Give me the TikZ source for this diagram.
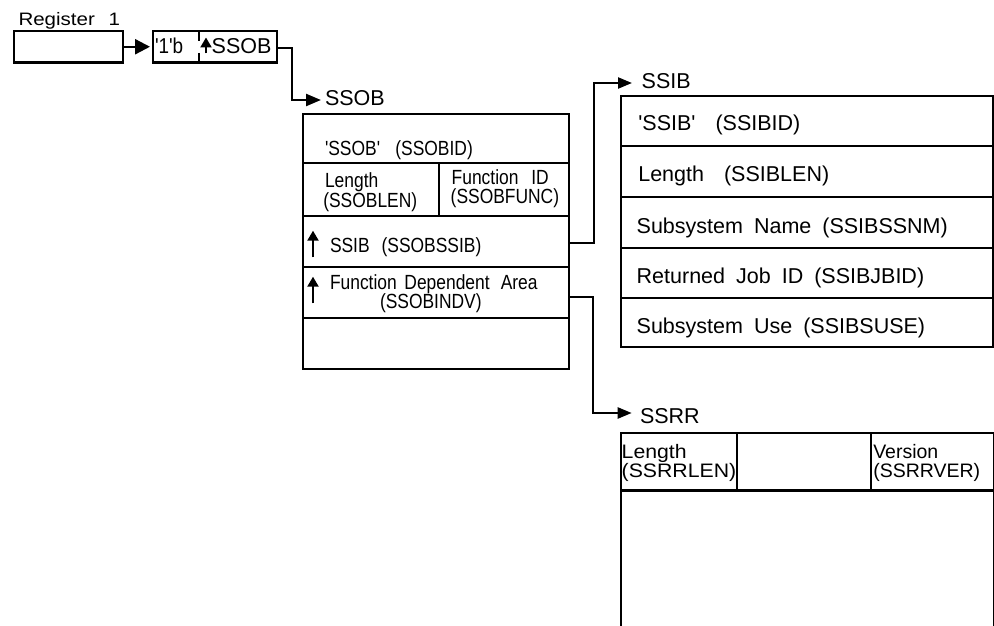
\documentclass[tikz,border=0pt]{standalone}
\usepackage{fontspec}
\setmainfont{Liberation Sans}[Ligatures=TeXOff]
\usetikzlibrary{arrows.meta}
\newcommand{\fntreg}{\fontsize{18}{18}\selectfont}
\newcommand{\fntlbl}{\fontsize{21.5}{21.5}\selectfont}
\newcommand{\fntob}{\fontsize{20.5}{20.5}\selectfont}
\newcommand{\fntib}{\fontsize{21.5}{21.5}\selectfont}
\newcommand{\fntrr}{\fontsize{19.5}{19.5}\selectfont}
\newcommand{\obx}[1]{\scalebox{0.85}[1]{#1}}
\newcommand{\rrx}[1]{\scalebox{1.09}[1]{#1}}
\newcommand{\rry}[1]{\scalebox{1.0}[1]{#1}}
\begin{document}
\begin{tikzpicture}[x=1pt,y=-1pt,
  cell/.style={draw, line width=2.3pt, inner sep=0pt, outer sep=0pt, anchor=north west},
  conn/.style={line width=2.3pt, -{Triangle[length=14pt,width=11pt]}},
  ptrarrow/.style={line width=2.2pt, -{Triangle[length=10pt,width=11pt]}},
  lbl/.style={inner sep=0pt, outer sep=0pt, anchor=base west},
  treg/.style={lbl, font=\fntreg},
  tlbl/.style={lbl, font=\fntlbl},
  tob/.style={lbl, font=\fntob},
  tib/.style={lbl, font=\fntib},
  trr/.style={lbl, font=\fntrr}]
\useasboundingbox (0,0) rectangle (994,626);
\clip (0,0) rectangle (994,626);

% Register 1 and pointer word
\node[treg] (regl) at (18.5,25.5) {\scalebox{1.14}[1]{Register\hspace{12pt}1}};
\node[cell, minimum width=109pt, minimum height=31.5pt] (reg) at (14,31) {};
\node[cell, minimum width=124pt, minimum height=31.5pt] (ptr) at (153,31) {};
\draw[line width=2.3pt] (199,31) -- (199,41.5) (199,53) -- (199,62.5);
\node[tlbl] (ptrflag) at (155,53.5) {\scalebox{0.88}[1]{'1'b}};
\draw[ptrarrow] (206,53.5) -- (206,37.5);
\node[tlbl] (ptrname) at (211.7,53.5) {SSOB};
\draw[line width=2.3pt, -{Triangle[length=15pt,width=15pt]}] (reg.east) -- ([xshift=-3pt]ptr.west);

% SSOB
\coordinate (ssobtip) at (321,100);
\node[tlbl] (ssobl) at (325,105.7) {SSOB};
\node[cell, minimum width=266.6pt, minimum height=49.3pt] (ssob1) at (302.7,114) {};
\node[cell, minimum width=136pt, minimum height=52.7pt] (ssob2a) at (302.7,163.3) {};
\node[cell, minimum width=130.6pt, minimum height=52.7pt] (ssob2b) at (438.7,163.3) {};
\node[cell, minimum width=266.6pt, minimum height=50.7pt] (ssob3) at (302.7,216) {};
\node[cell, minimum width=266.6pt, minimum height=51.3pt] (ssob4) at (302.7,266.7) {};
\node[cell, minimum width=266.6pt, minimum height=51pt] (ssob5) at (302.7,318) {};
\node[tob] (o1) at (325,155.5) {\obx{'SSOB'\hspace{18pt}(SSOBID)}};
\node[tob] (o2a) at (325,187.8) {\obx{Length}};
\node[tob] (o2b) at (323.3,207.3) {\obx{(SSOBLEN)}};
\node[tob] (o2c) at (451.7,184.3) {\obx{Function\hspace{15pt}ID}};
\node[tob] (o2d) at (450.7,203.8) {\obx{(SSOBFUNC)}};
\draw[ptrarrow] (313,257.3) -- (313,230.7);
\node[tob] (o3) at (330,252) {\obx{SSIB\hspace{14pt}(SSOBSSIB)}};
\draw[ptrarrow] (313,303.3) -- (313,276.7);
\node[tob] (o4a) at (330,289.3) {\obx{Function\hspace{9pt}Dependent\hspace{13pt}Area}};
\node[tob] (o4b) at (380,308.8) {\obx{(SSOBINDV)}};
\draw[conn, -{Triangle[length=15pt,width=12pt]}] ([yshift=-1.5pt]ptr.east) -- ++(15,0) |- (ssobtip);

% SSIB
\coordinate (ssibtip) at (632,83);
\node[tlbl] (ssibl) at (641.7,88.3) {SSIB};
\node[cell, minimum width=372.3pt, minimum height=50pt] (ssib1) at (620.7,96) {};
\node[cell, minimum width=372.3pt, minimum height=51.3pt] (ssib2) at (620.7,146) {};
\node[cell, minimum width=372.3pt, minimum height=51pt] (ssib3) at (620.7,197.3) {};
\node[cell, minimum width=372.3pt, minimum height=50pt] (ssib4) at (620.7,248.3) {};
\node[cell, minimum width=372.3pt, minimum height=48.4pt] (ssib5) at (620.7,298.3) {};
\node[tib] (i1) at (638.3,131) {'SSIB'\hspace{20pt}(SSIBID)};
\node[tib] (i2) at (638.3,181.7) {Length\hspace{20pt}(SSIBLEN)};
\node[tib] (i3) at (636.7,233.3) {Subsystem\hspace{11pt}Name\hspace{11pt}(SSIBSSNM)};
\node[tib] (i4) at (636.7,283.3) {Returned\hspace{11pt}Job\hspace{11pt}ID\hspace{11pt}(SSIBJBID)};
\node[tib] (i5) at (636.7,333.3) {Subsystem\hspace{11pt}Use\hspace{11pt}(SSIBSUSE)};
\draw[conn] ([yshift=-1.3pt]ssob3.east) -- ++(24.7,0) |- (ssibtip);

% SSRR
\coordinate (ssrrtip) at (631.7,413);
\node[tlbl] (ssrrl) at (640,423) {SSRR};
\node[cell, minimum width=116pt, minimum height=57.2pt] (ssrr1) at (620.7,433.3) {};
\node[cell, minimum width=134.3pt, minimum height=57.2pt] (ssrr2) at (736.7,433.3) {};
\node[cell, minimum width=123pt, minimum height=57.2pt] (ssrr3) at (871,433.3) {};
\node[cell, minimum width=373.3pt, minimum height=160pt] (ssrr4) at (620.7,490.5) {};
\node[trr] (r1a) at (621.7,458.3) {\rrx{Length}};
\node[trr] (r1b) at (621.7,477.2) {\rrx{(SSRRLEN)}};
\node[trr] (r3a) at (873.3,458.3) {\rry{Version}};
\node[trr] (r3b) at (873.3,477.2) {\rry{(SSRRVER)}};
\draw[conn] ([yshift=-4.4pt]ssob4.east) -- ++(23.7,0) |- (ssrrtip);
\end{tikzpicture}
\end{document}
